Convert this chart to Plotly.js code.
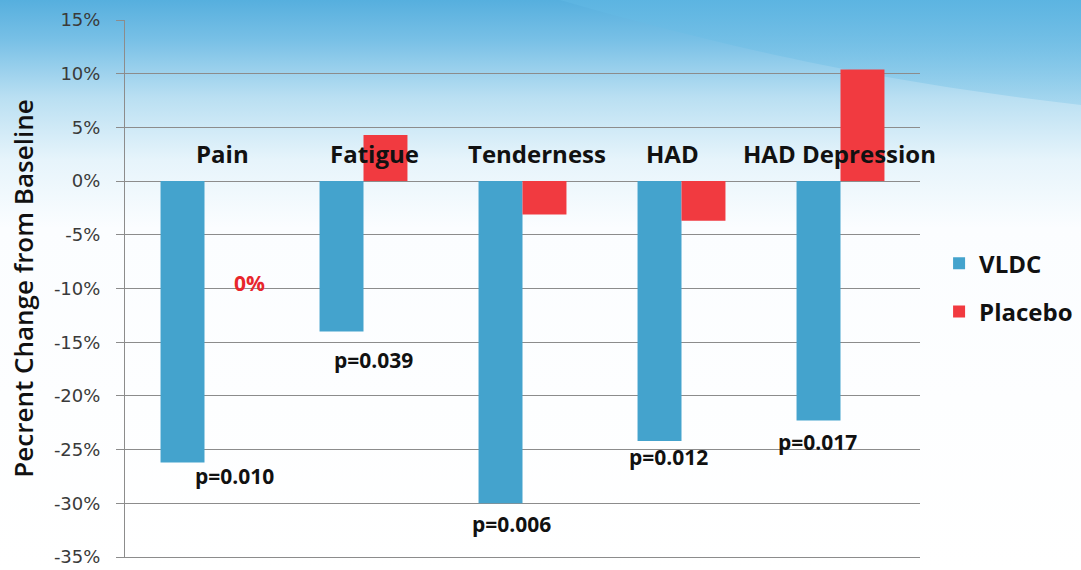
<!DOCTYPE html>
<html><head><meta charset="utf-8">
<script src="https://cdn.plot.ly/plotly-3.0.1.min.js"></script>
<style>html,body{margin:0;padding:0;background:#fff}#chart{width:1081px;height:570px}</style>
</head><body><div id="chart"></div>
<script>
// ---- data ----
const categories = ["Pain", "Fatigue", "Tenderness", "HAD", "HAD Depression"];
const vldc = [-26.2, -14.0, -30.0, -24.2, -22.3];
const placebo = [0.0, 4.3, -3.1, -3.7, 10.4];
const pLabels = ["p=0.010", "p=0.039", "p=0.006", "p=0.012", "p=0.017"];
const yTicks = [15, 10, 5, 0, -5, -10, -15, -20, -25, -30, -35];
const yTickText = yTicks.map(v => v + "%");

// ---- layout helpers (positions / styles) ----
const catShift = [18, 11, 14, -9, -1];
const pShift = [30, 10, -11, -13, -23];
const pYShift = [2, -13, -5, 0, -5];
const W = 1081, H = 570, L = 125, R = 161, T = 20, B = 13;
const pw = W - L - R, ph = H - T - B;

const bgSvg = '<svg xmlns="http://www.w3.org/2000/svg" width="1081" height="570" viewBox="0 0 1081 570">' +
  '<defs><linearGradient id="g" x1="0" y1="0" x2="0" y2="1">' +
  '<stop offset="0" stop-color="#56AFDE"/>' +
  '<stop offset="0.07" stop-color="#78C0E6"/>' +
  '<stop offset="0.17" stop-color="#B9DFF2"/>' +
  '<stop offset="0.28" stop-color="#E6F4FB"/>' +
  '<stop offset="0.40" stop-color="#FBFDFF"/>' +
  '<stop offset="1" stop-color="#FFFFFF"/></linearGradient>' +
  '<linearGradient id="h" x1="0" y1="0" x2="0" y2="1">' +
  '<stop offset="0" stop-color="#5DB5E2" stop-opacity="0.9"/>' +
  '<stop offset="1" stop-color="#8FCDEB" stop-opacity="0.5"/></linearGradient></defs>' +
  '<rect width="1081" height="570" fill="url(#g)"/>' +
  '<path d="M560,0 C700,40 860,80 1081,105 L1081,0 Z" fill="url(#h)"/>' +
  '</svg>';

const font = "'Open Sans', Lato, 'DejaVu Sans', sans-serif";

const traces = [
  {type: "bar", name: "VLDC", x: categories, y: vldc, marker: {color: "#44A3CD"},
   legendgroup: "a", hoverinfo: "skip"},
  {type: "bar", name: "Placebo", x: categories, y: placebo, marker: {color: "#F13A40"},
   legendgroup: "b", hoverinfo: "skip"}
];

const annotations = [];
categories.forEach((c, i) => {
  annotations.push({x: c, y: 0, xref: "x", yref: "y", text: "<b>" + c + "</b>", showarrow: false,
    yanchor: "bottom", yshift: 9, xshift: catShift[i], font: {family: font, size: 24, color: "#111"}});
  annotations.push({x: c, y: vldc[i], xref: "x", yref: "y", text: "<b>" + pLabels[i] + "</b>", showarrow: false,
    yanchor: "top", yshift: pYShift[i], xshift: pShift[i], font: {family: font, size: 21, color: "#111"}});
});
annotations.push({x: categories[0], y: -9.5, xref: "x", yref: "y", text: "<b>" + placebo[0] + "%</b>", showarrow: false,
  xshift: 45, font: {family: font, size: 21, color: "#E8262C"}});

const layout = {
  width: W, height: H,
  margin: {l: L, r: R, t: T, b: B, pad: 0, autoexpand: false},
  paper_bgcolor: "#fff", plot_bgcolor: "rgba(0,0,0,0)",
  barmode: "group", bargap: 0.447, bargroupgap: 0,
  showlegend: true,
  legend: {x: 1.024, y: 0.588, xanchor: "left", yanchor: "top", traceorder: "grouped", tracegroupgap: 14,
    font: {family: font, size: 24, color: "#111", weight: "bold"}, bgcolor: "rgba(0,0,0,0)"},
  xaxis: {range: [-0.5, categories.length - 0.5], autorange: false, showticklabels: false, showgrid: false,
    zeroline: false, showline: true, linecolor: "#8c8c8c", linewidth: 1, ticks: "", fixedrange: true},
  yaxis: {range: [-35, 15], autorange: false, tickvals: yTicks, ticktext: yTickText, showgrid: true, gridcolor: "#8c8c8c",
    gridwidth: 1, zeroline: true, zerolinecolor: "#8c8c8c", zerolinewidth: 1, showline: true, linecolor: "#8c8c8c",
    ticks: "outside", ticklen: 8, tickcolor: "#8c8c8c", ticklabelstandoff: 12,
    tickfont: {family: "'DejaVu Sans', sans-serif", size: 18, color: "#3a3a3a"},
    title: {text: "Pecrent Change from Baseline", standoff: 12, font: {family: font, size: 26, color: "#111", weight: 600}},
    fixedrange: true},
  annotations: annotations,
  images: [{source: "data:image/svg+xml;charset=utf-8," + encodeURIComponent(bgSvg), xref: "paper", yref: "paper",
    x: -L / pw, y: 1 + T / ph, sizex: W / pw, sizey: H / ph, sizing: "stretch", xanchor: "left", yanchor: "top", layer: "below"}]
};

Plotly.newPlot("chart", traces, layout, {displayModeBar: false, staticPlot: true});
</script></body></html>
